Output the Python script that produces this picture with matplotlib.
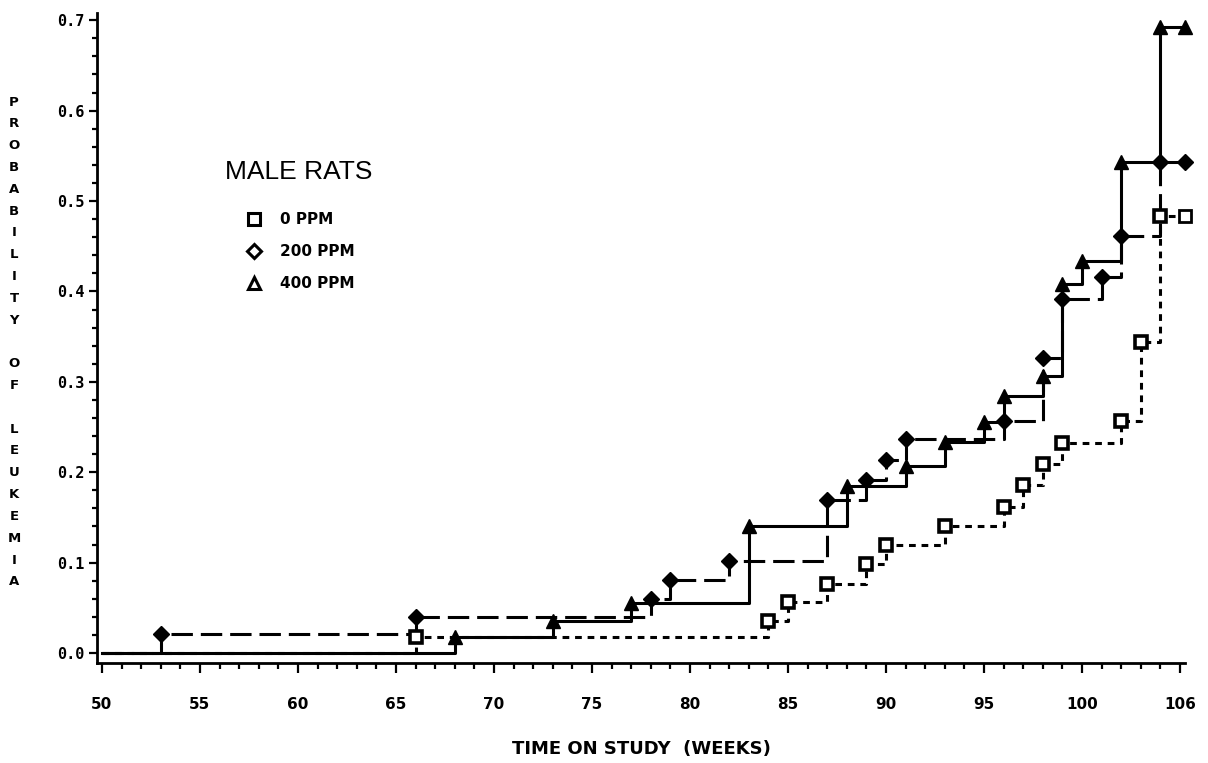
import numpy as np
import matplotlib
matplotlib.use("Agg")
import matplotlib.pyplot as plt
from matplotlib.lines import Line2D
from matplotlib.ticker import MultipleLocator

# cumulative probability of leukemia
weeks_0 = [66, 84, 85, 87, 89, 90, 93, 96, 97, 98, 99, 102, 103, 104]
prob_0 = [0.018, 0.036, 0.056, 0.076, 0.098, 0.119, 0.140, 0.162, 0.186,
          0.209, 0.232, 0.257, 0.344, 0.483]

weeks_200 = [53, 66, 78, 79, 82, 87, 89, 90, 91, 96, 98, 99, 101, 102, 104]
prob_200 = [0.021, 0.040, 0.060, 0.081, 0.102, 0.169, 0.191, 0.213, 0.237,
            0.257, 0.326, 0.392, 0.416, 0.461, 0.543]

weeks_400 = [68, 73, 77, 83, 88, 91, 93, 95, 96, 98, 99, 100, 102, 104]
prob_400 = [0.018, 0.036, 0.055, 0.140, 0.185, 0.207, 0.234, 0.256, 0.284,
            0.307, 0.408, 0.434, 0.543, 0.693]

study_start = 50
study_end = 105.25

x_ticks = [50, 55, 60, 65, 70, 75, 80, 85, 90, 95, 100, 105]
x_tick_labels = ["50", "55", "60", "65", "70", "75", "80", "85", "90", "95", "100", "106"]
y_ticks = [0.0, 0.1, 0.2, 0.3, 0.4, 0.5, 0.6, 0.7]
y_tick_labels = ["0.0", "0.1", "0.2", "0.3", "0.4", "0.5", "0.6", "0.7"]

W, H = 1208, 763
fig = plt.figure(figsize=(W / 100, H / 100), dpi=100)
# axes box in pixels: left spine x=97, bottom spine y=663, top y=13
ax = fig.add_axes([97 / W, 1 - 663 / H, (1185 - 97) / W, (663 - 13) / H])


def curve(weeks, probs):
    xs = [study_start] + list(weeks) + [study_end]
    ys = [0.0] + list(probs) + [probs[-1]]
    return xs, ys


lw = 2.2
# 0 PPM - short dashes, squares
xs, ys = curve(weeks_0, prob_0)
ax.step(xs, ys, where="post", color="black", lw=lw, dashes=(2.2, 1.9), zorder=2)
ax.plot(weeks_0, prob_0, ls="none", marker="s", ms=8, mfc="white", mec="black",
        mew=2.6, zorder=4, clip_on=False)
ax.plot([study_end], [prob_0[-1]], ls="none", marker="s", ms=8, mfc="white",
        mec="black", mew=2.0, zorder=4, clip_on=False)

# 200 PPM - long dashes, diamonds
xs, ys = curve(weeks_200, prob_200)
ax.step(xs, ys, where="post", color="black", lw=lw, dashes=(7, 2.6), zorder=2)
ax.plot(weeks_200 + [study_end], prob_200 + [prob_200[-1]], ls="none", marker="D",
        ms=8, color="black", zorder=4, clip_on=False)

# 400 PPM - solid, triangles
xs, ys = curve(weeks_400, prob_400)
ax.step(xs, ys, where="post", color="black", lw=lw, zorder=3)
ax.plot(weeks_400 + [study_end], prob_400 + [prob_400[-1]], ls="none", marker="^",
        ms=9.5, color="black", zorder=4, clip_on=False)

ax.set_xlim(49.75, study_end)
ax.set_ylim(-0.011, 0.708)

for s in ["top", "right"]:
    ax.spines[s].set_visible(False)
for s in ["left", "bottom"]:
    ax.spines[s].set_linewidth(2.0)

ax.set_xticks(x_ticks)
ax.set_xticklabels(x_tick_labels, fontweight="bold", fontsize=11)
ax.set_yticks(y_ticks)
ax.set_yticklabels(y_tick_labels, fontweight="bold", fontsize=11,
                   family="DejaVu Sans Mono")
ax.xaxis.set_minor_locator(MultipleLocator(1))
ax.yaxis.set_minor_locator(MultipleLocator(0.02))
ax.tick_params(axis="x", which="major", direction="out", length=7.5, width=1.6, pad=17)
ax.tick_params(axis="x", which="minor", direction="out", length=4, width=1.6)
ax.tick_params(axis="y", which="major", direction="out", length=6, width=1.6, pad=3)
ax.tick_params(axis="y", which="minor", direction="out", length=3.5, width=1.6)

ax.set_xlabel("TIME ON STUDY  (WEEKS)", fontweight="bold", fontsize=13, labelpad=20)

# stacked vertical y label
ylab = "PROBABILITY OF LEUKEMIA"
fig.text(14 / W, 1 - 342 / H, "\n".join(ch if ch != " " else "" for ch in ylab),
         ha="center", va="center", fontweight="bold", fontsize=9.5, linespacing=1.88)

# legend
fig.text(225 / W, 1 - 172 / H, "MALE RATS", ha="left", va="center",
         family="Liberation Sans", fontsize=19)
handles = [
    Line2D([], [], ls="none", marker="s", ms=9, mfc="white", mec="black", mew=2.2),
    Line2D([], [], ls="none", marker="D", ms=7.5, mfc="white", mec="black", mew=2.2),
    Line2D([], [], ls="none", marker="^", ms=9, mfc="white", mec="black", mew=2.2),
]
labels = ["0 PPM", "200 PPM", "400 PPM"]
leg = fig.legend(handles, labels, loc="upper left", bbox_to_anchor=(246 / W, 1 - 212 / H),
                 frameon=False, handlelength=1.0, handletextpad=1.2, labelspacing=1.12,
                 borderpad=0, borderaxespad=0, prop={"weight": "bold", "size": 11})

fig.savefig("out.png", dpi=100)
